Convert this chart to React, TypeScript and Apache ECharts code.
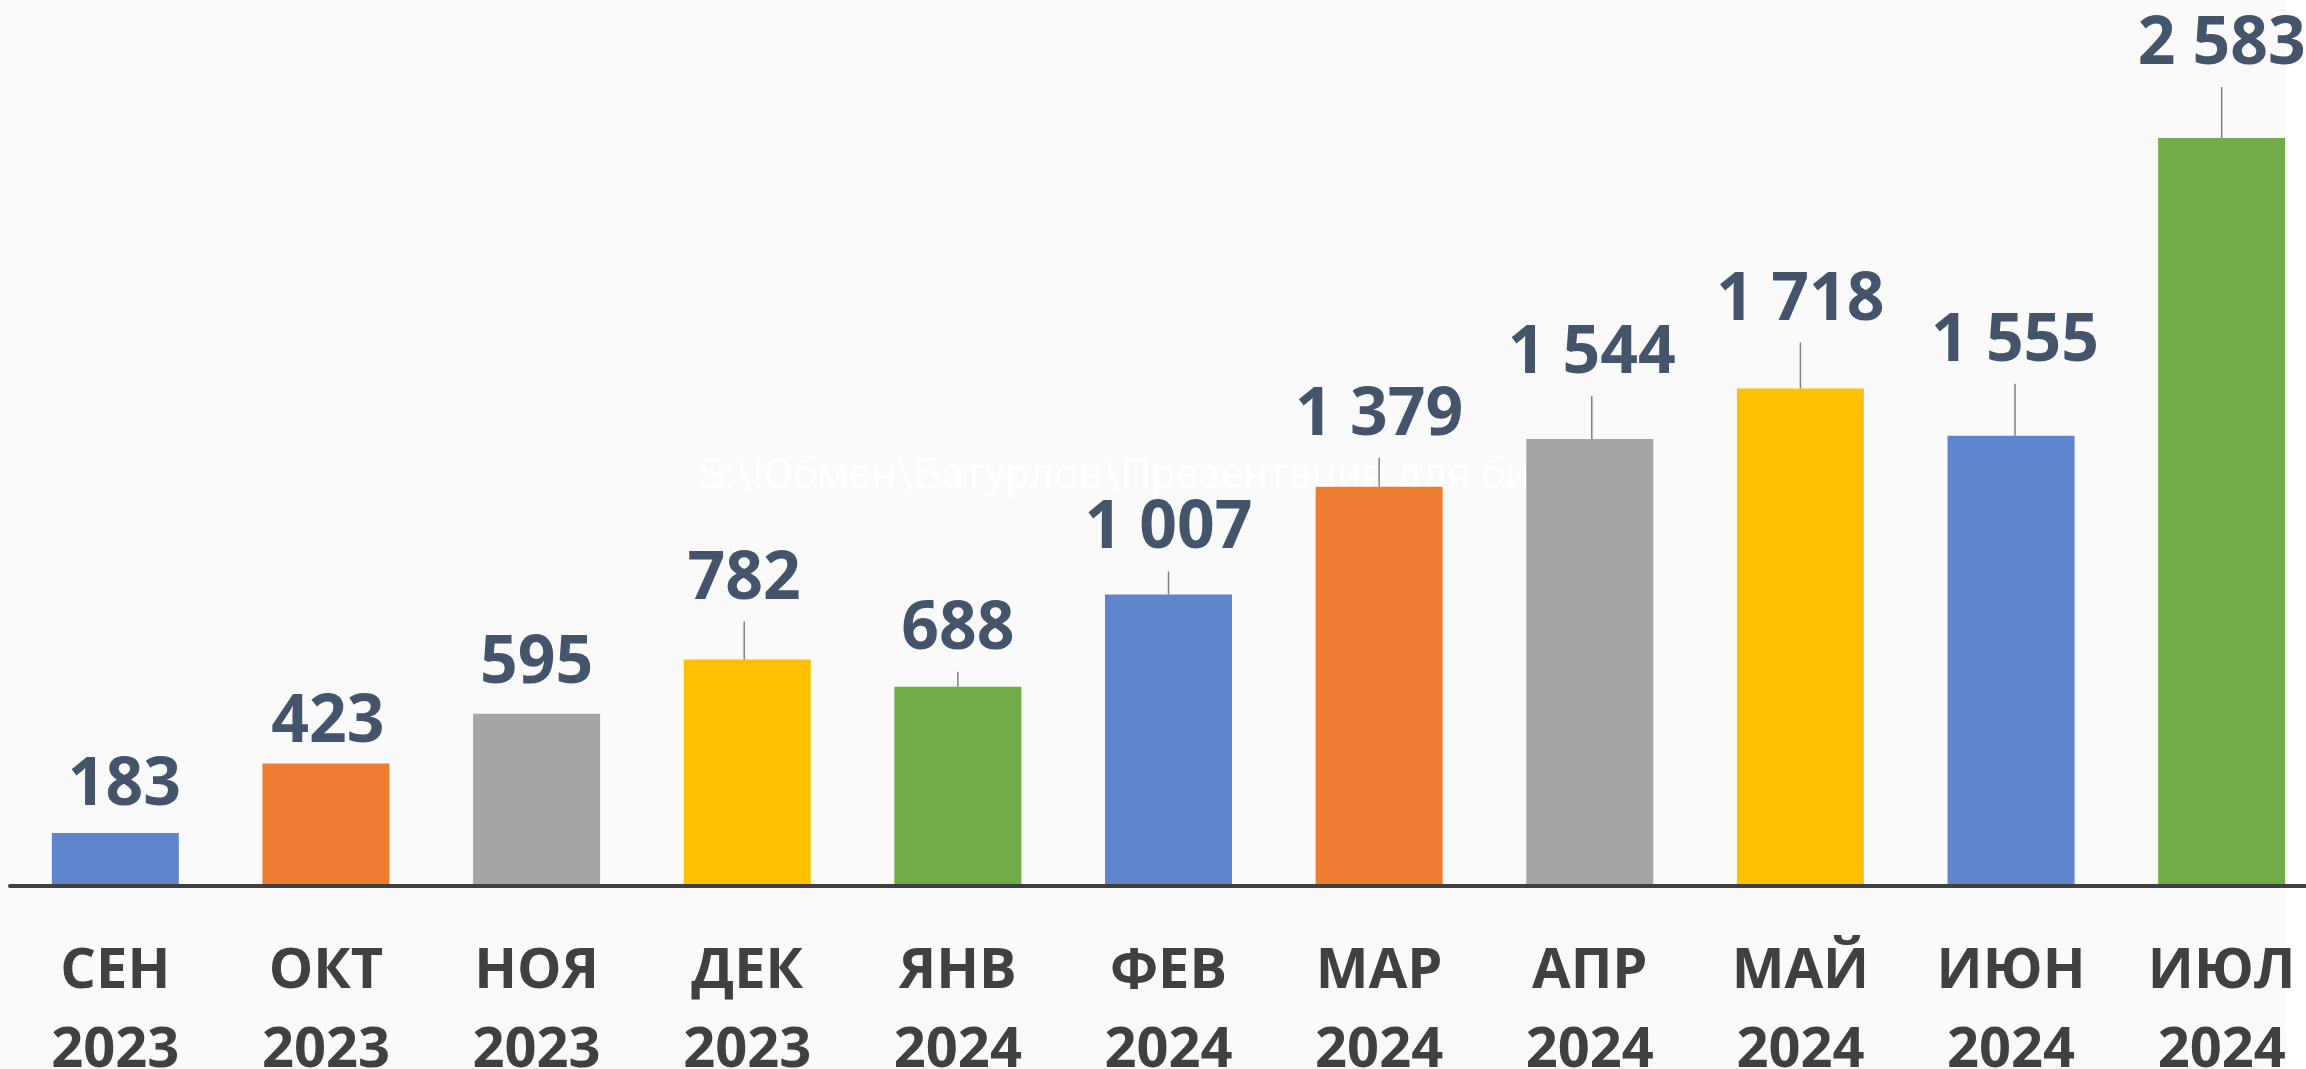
import React, { useEffect, useRef } from "react";
import * as echarts from "echarts";

const months = ["СЕН", "ОКТ", "НОЯ", "ДЕК", "ЯНВ", "ФЕВ", "МАР", "АПР", "МАЙ", "ИЮН", "ИЮЛ"];
const years = ["2023", "2023", "2023", "2023", "2024", "2024", "2024", "2024", "2024", "2024", "2024"];
const values = [183, 423, 595, 782, 688, 1007, 1379, 1544, 1718, 1555, 2583];

// styling (not data)
const barColors = ["#5F86CC", "#ED7D31", "#A5A5A5", "#FFC000", "#70AD47", "#5F86CC", "#ED7D31", "#A5A5A5", "#FFC000", "#5F86CC", "#70AD47"];
const labelShift = [0, 6, -3, -33, -10, -18, -24, -38, -41, -47, -46];
const labelDx = [9, 2, 0, -3, 0, 0, 0, 2, 0, 4, 0];
const showLeader = [false, false, false, true, true, true, true, true, true, true, true];

const watermark = "S:\\!Обмен\\Батурлов\\Презентация для би";

function fmt(v: number): string {
  return String(v).replace(/\B(?=(\d{3})+(?!\d))/g, " ");
}

export default function App() {
  const ref = useRef<HTMLDivElement>(null);
  useEffect(() => {
    if (!ref.current) return;
    const chart = echarts.init(ref.current, undefined, { renderer: "svg" });
    const categories = months.map((m, i) => m + "\n" + years[i]);
    chart.setOption({
      animation: false,
      backgroundColor: "#FAFAFA",
      graphic: [
        {
          type: "rect",
          z: 0,
          shape: { x: 2286, y: 0, width: 20, height: 1069 },
          style: { fill: "#FFFFFF" },
          silent: true,
        },
        {
          type: "text",
          z: 1,
          x: 699,
          y: 473,
          silent: true,
          style: {
            text: watermark,
            fill: "#FFFFFF",
            fontSize: 43,
            fontFamily: "Roboto",
            verticalAlign: "middle",
          },
        },
      ],
      grid: {
        left: 10,
        right: -21,
        top: 0,
        bottom: 183,
        containLabel: false,
        outerBoundsMode: "none",
      },
      xAxis: {
        type: "category",
        data: categories,
        z: 3,
        axisLine: { show: true, lineStyle: { color: "#404040", width: 4 } },
        axisTick: { show: false },
        axisLabel: {
          interval: 0,
          margin: 40,
          color: "#404040",
          fontFamily: "'Open Sans', sans-serif",
          fontWeight: "bold",
          fontSize: 56,
          lineHeight: 79,
        },
      },
      yAxis: {
        type: "value",
        min: 0,
        max: 3060,
        show: false,
        splitLine: { show: false },
      },
      series: [
        {
          type: "bar",
          barWidth: 127,
          data: values.map((v, i) => ({
            value: v,
            itemStyle: { color: barColors[i] },
            labelLine: { show: showLeader[i] },
          })),
          label: {
            show: true,
            position: "top",
            distance: 5,
            formatter: (p: any) => fmt(p.value),
            color: "#44546A",
            fontFamily: "'Open Sans', sans-serif",
            fontWeight: "bold",
            fontSize: 66,
            lineHeight: 66,
            padding: [0, 0, 16, 0],
            backgroundColor: "transparent",
          },
          labelLine: {
            show: true,
            lineStyle: { color: "#7F7F7F", width: 1.5 },
          },
          labelLayout: (params: any) => ({
            dx: labelDx[params.dataIndex],
            dy: labelShift[params.dataIndex],
          }),
        },
      ],
    });
    return () => chart.dispose();
  }, []);
  return (
    <div
      ref={ref}
      style={{ position: "fixed", left: 0, top: 0, width: 2306, height: 1069 }}
    />
  );
}
